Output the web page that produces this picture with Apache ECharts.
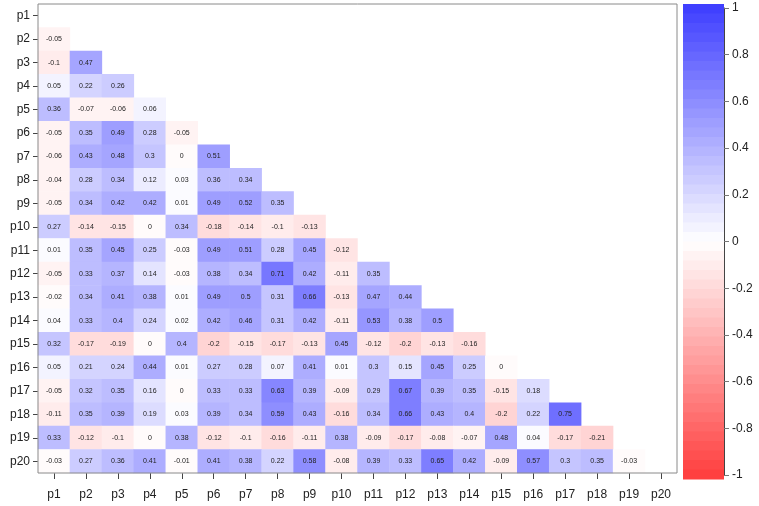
<!DOCTYPE html>
<html>
<head>
<meta charset="utf-8">
<script src="https://cdn.jsdelivr.net/npm/echarts@6/dist/echarts.min.js"></script>
<style>
html,body{margin:0;padding:0;background:#fff;}
#chart{width:759px;height:506px;}
</style>
</head>
<body>
<div id="chart"></div>
<script>
const varNames = ['p1','p2','p3','p4','p5','p6','p7','p8','p9','p10','p11','p12','p13','p14','p15','p16','p17','p18','p19','p20'];
// lower triangle: row i (p2..p20) holds correlations with p1..p(i-1)
const corrRows = [
  [],
  [-0.05],
  [-0.1, 0.47],
  [0.05, 0.22, 0.26],
  [0.36, -0.07, -0.06, 0.06],
  [-0.05, 0.35, 0.49, 0.28, -0.05],
  [-0.06, 0.43, 0.48, 0.3, 0, 0.51],
  [-0.04, 0.28, 0.34, 0.12, 0.03, 0.36, 0.34],
  [-0.05, 0.34, 0.42, 0.42, 0.01, 0.49, 0.52, 0.35],
  [0.27, -0.14, -0.15, 0, 0.34, -0.18, -0.14, -0.1, -0.13],
  [0.01, 0.35, 0.45, 0.25, -0.03, 0.49, 0.51, 0.28, 0.45, -0.12],
  [-0.05, 0.33, 0.37, 0.14, -0.03, 0.38, 0.34, 0.71, 0.42, -0.11, 0.35],
  [-0.02, 0.34, 0.41, 0.38, 0.01, 0.49, 0.5, 0.31, 0.66, -0.13, 0.47, 0.44],
  [0.04, 0.33, 0.4, 0.24, 0.02, 0.42, 0.46, 0.31, 0.42, -0.11, 0.53, 0.38, 0.5],
  [0.32, -0.17, -0.19, 0, 0.4, -0.2, -0.15, -0.17, -0.13, 0.45, -0.12, -0.2, -0.13, -0.16],
  [0.05, 0.21, 0.24, 0.44, 0.01, 0.27, 0.28, 0.07, 0.41, 0.01, 0.3, 0.15, 0.45, 0.25, 0],
  [-0.05, 0.32, 0.35, 0.16, 0, 0.33, 0.33, 0.63, 0.39, -0.09, 0.29, 0.67, 0.39, 0.35, -0.15, 0.18],
  [-0.11, 0.35, 0.39, 0.19, 0.03, 0.39, 0.34, 0.59, 0.43, -0.16, 0.34, 0.66, 0.43, 0.4, -0.2, 0.22, 0.75],
  [0.33, -0.12, -0.1, 0, 0.38, -0.12, -0.1, -0.16, -0.11, 0.38, -0.09, -0.17, -0.08, -0.07, 0.48, 0.04, -0.17, -0.21],
  [-0.03, 0.27, 0.36, 0.41, -0.01, 0.41, 0.38, 0.22, 0.58, -0.08, 0.39, 0.33, 0.65, 0.42, -0.09, 0.57, 0.3, 0.35, -0.03]
];
const legendMin = -1, legendMax = 1, legendStep = 0.2;

const cells = [];
corrRows.forEach((row, r) => row.forEach((v, c) => cells.push([c, r, v])));

const FONT = 'Liberation Sans, Arial, sans-serif';
const BOX = '#8a8a8a';
const chart = echarts.init(document.getElementById('chart'), null, {renderer: 'canvas'});
chart.setOption({
  animation: false,
  backgroundColor: '#fff',
  grid: [
    {left: 38, right: 82, top: 4, bottom: 33, show: true, z: 5, borderColor: BOX, borderWidth: 1, backgroundColor: 'transparent'},
    {left: 683, width: 41, top: 8, bottom: 31, show: false}
  ],
  xAxis: [
    {type: 'category', gridIndex: 0, data: varNames,
     axisLine: {show: false},
     axisTick: {show: true, alignWithLabel: true, length: 6, lineStyle: {color: '#444'}},
     axisLabel: {fontSize: 12, color: '#222', fontFamily: FONT, margin: 16, interval: 0},
     splitLine: {show: false}},
    {type: 'category', gridIndex: 1, data: [''], show: false}
  ],
  yAxis: [
    {type: 'category', gridIndex: 0, data: varNames, inverse: true,
     axisLine: {show: false},
     axisTick: {show: true, alignWithLabel: true, length: 5, lineStyle: {color: '#444'}},
     axisLabel: {fontSize: 12, color: '#222', fontFamily: FONT, margin: 8, interval: 0},
     splitLine: {show: false}},
    {type: 'value', gridIndex: 1, min: legendMin, max: legendMax, interval: legendStep, position: 'right', z: 10,
     axisLine: {show: true, lineStyle: {color: '#444'}},
     axisTick: {show: true, length: 5, lineStyle: {color: '#777'}},
     axisLabel: {fontSize: 12, color: '#222', fontFamily: FONT, margin: 8},
     splitLine: {show: false}}
  ],
  visualMap: {
    type: 'piecewise',
    min: legendMin, max: legendMax,
    splitNumber: 50,
    dimension: 2,
    seriesIndex: 0,
    orient: 'vertical',
    left: 683, top: 4,
    padding: 0,
    itemWidth: 41, itemHeight: 10, itemGap: -0.5,
    itemSymbol: 'rect',
    showLabel: false,
    selectedMode: false,
    hoverLink: false,
    inRange: {color: ['#ff4040', '#ffffff', '#4040ff']}
  },
  series: [{
    type: 'heatmap',
    xAxisIndex: 0, yAxisIndex: 0,
    z: 2,
    data: cells,
    label: {show: true, fontSize: 7, color: '#222', fontFamily: FONT,
            formatter: p => String(p.value[2])},
    emphasis: {disabled: true},
    itemStyle: {borderWidth: 0}
  }]
});
</script>
</body>
</html>
